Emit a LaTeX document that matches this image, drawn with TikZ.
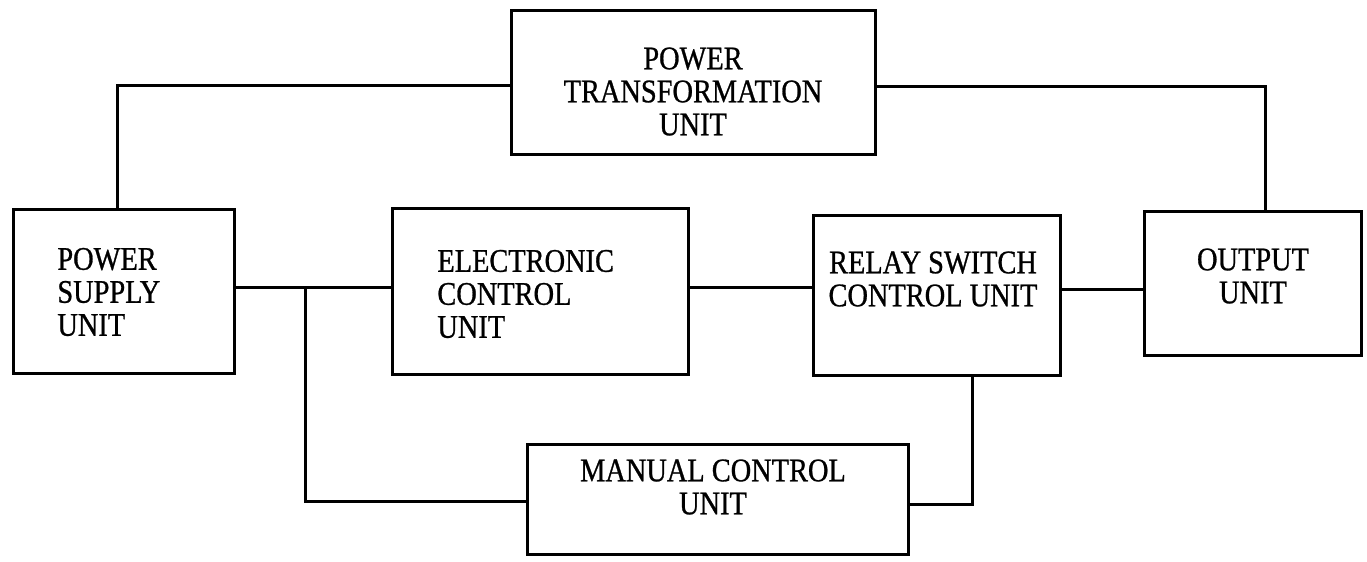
\documentclass[tikz,border=0pt]{standalone}
\usepackage{fontspec}
\setmainfont{Liberation Serif}[FakeStretch=0.86,FakeBold=0.8]
\begin{document}
\begin{tikzpicture}[x=0.5pt,y=-0.5pt,
  box/.style={draw,line width=1.5pt},
  wire/.style={line width=1.5pt},
  lbl/.style={inner sep=0pt,font=\fontsize{16.5}{16.5}\selectfont}]
\useasboundingbox (0,0) rectangle (1367,562);
% boxes
\node[box,minimum width=182pt,minimum height=72pt] (pt) at (693,82) {};
\node[box,minimum width=110.5pt,minimum height=82pt] (ps) at (123.5,291) {};
\node[box,minimum width=148pt,minimum height=83pt] (ecu) at (540,291) {};
\node[box,minimum width=123.5pt,minimum height=80pt] (rel) at (936.5,295) {};
\node[box,minimum width=108.5pt,minimum height=72pt] (out) at (1252.5,283) {};
\node[box,minimum width=190.5pt,minimum height=55pt] (man) at (717.5,499) {};
% texts
\node[lbl,align=center] (tpt) at (693,91.5) {POWER\\TRANSFORMATION\\UNIT};
\node[lbl,align=left,anchor=west] (tps) at (57,292) {POWER\\SUPPLY\\UNIT};
\node[lbl,align=left,anchor=west] (tecu) at (437,294) {ELECTRONIC\\CONTROL\\UNIT};
\node[lbl,align=center] (trel) at (933,279) {RELAY SWITCH\\CONTROL UNIT};
\node[lbl,align=center] (tout) at (1253,276) {OUTPUT\\UNIT};
\node[lbl,align=center] (tman) at (713,487) {MANUAL CONTROL\\UNIT};
% connectors
\coordinate (ja) at (117,85);
\coordinate (jb) at (1265,86);
\coordinate (jc) at (305,287);
\coordinate (jd) at (305,501);
\coordinate (je) at (972,504);
\draw[wire] (pt.west |- ja) -- (ja) -- (ja |- ps.north);
\draw[wire] (pt.east |- jb) -- (jb) -- (jb |- out.north);
\draw[wire] (ps.east |- jc) -- (ecu.west |- jc);
\draw[wire] (jc) -- (jd) -- (man.west |- jd);
\draw[wire] (ecu.east |- jc) -- (rel.west |- jc);
\draw[wire] (rel.east |- 0,289) -- (out.west |- 0,289);
\draw[wire] (je |- rel.south) -- (je) -- (man.east |- je);
\end{tikzpicture}
\end{document}
